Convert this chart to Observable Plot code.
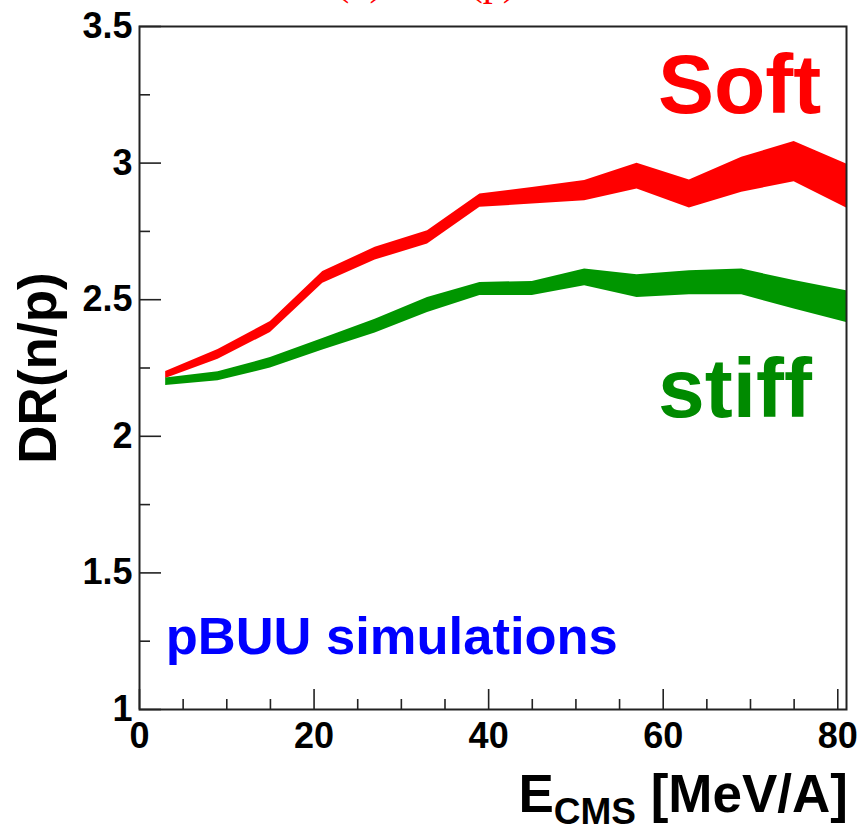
<!DOCTYPE html>
<html>
<head>
<meta charset="utf-8">
<script src="https://cdn.jsdelivr.net/npm/d3@7"></script>
<script src="https://cdn.jsdelivr.net/npm/@observablehq/plot@0.6"></script>
<style>
  html, body { margin: 0; padding: 0; background: #fff; }
  #chart { width: 857px; height: 830px; overflow: hidden; }
  #chart svg { display: block; }
</style>
</head>
<body>
<div id="chart"></div>
<script>
// Beam energy in the centre-of-mass frame (MeV/A)
const energy = [3, 9, 15, 21, 27, 33, 39, 45, 51, 57, 63, 69, 75, 81];

// Double ratio DR(n/p), soft symmetry energy: lower / upper edge of the band
const softLow  = [2.212, 2.282, 2.380, 2.560, 2.645, 2.704, 2.838, 2.850, 2.862, 2.905, 2.836, 2.893, 2.932, 2.836];
const softHigh = [2.237, 2.318, 2.420, 2.603, 2.692, 2.752, 2.887, 2.911, 2.936, 2.999, 2.938, 3.021, 3.079, 2.997];

// Double ratio DR(n/p), stiff symmetry energy: lower / upper edge of the band
const stiffLow  = [2.186, 2.203, 2.250, 2.316, 2.378, 2.453, 2.515, 2.515, 2.551, 2.508, 2.518, 2.518, 2.466, 2.417];
const stiffHigh = [2.213, 2.236, 2.288, 2.358, 2.428, 2.508, 2.563, 2.567, 2.612, 2.591, 2.606, 2.612, 2.570, 2.533];

// Axis ticks and their labels
const xMajorTicks = [0, 20, 40, 60, 80];
const xMinorTicks = [5, 10, 15, 25, 30, 35, 45, 50, 55, 65, 70, 75];
const yMajorTicks = [1, 1.5, 2, 2.5, 3, 3.5];
const yMinorTicks = [1.25, 1.75, 2.25, 2.75, 3.25];
const yTickLabels = ["1", "1.5", "2", "2.5", "3", "3.5"];
const xTickLabels = ["0", "20", "40", "60", "80"];

// Text annotations placed in data coordinates
const notes = [
  {x: 59.4, y: 3.184, text: "Soft", color: "#ff0000", size: 84},
  {x: 59.4, y: 2.070, text: "stiff", color: "#008a00", size: 84},
  {x: 3.0, y: 1.204, text: "pBUU simulations", color: "#0000ff", size: 52.5}
];

const band = (lo, hi) => energy.map((e, i) => ({e, lo: lo[i], hi: hi[i]}));
const soft = band(softLow, softHigh);
const stiff = band(stiffLow, stiffHigh);

const W = 857, H = 830;
const mL = 139, mR = 11, mT = 26, mB = 121;
const innerW = W - mL - mR, innerH = H - mT - mB;
const axisColor = "#222";

const chart = Plot.plot({
  width: W,
  height: H,
  marginLeft: mL,
  marginRight: mR,
  marginTop: mT,
  marginBottom: mB,
  style: {fontFamily: "'Liberation Sans', Arial, Helvetica, sans-serif", fontWeight: "bold", background: "#fff", color: "#000", overflow: "visible"},
  x: {domain: [0, 81], label: null},
  y: {domain: [1, 3.5], label: null},
  marks: [
    Plot.areaY(soft, {x: "e", y1: "lo", y2: "hi", fill: "#ff0000"}),
    Plot.areaY(stiff, {x: "e", y1: "lo", y2: "hi", fill: "#009600"}),
    // inward ticks on the left axis
    Plot.ruleY(yMajorTicks, {y: d => d, insetRight: innerW - 22, stroke: axisColor, strokeWidth: 1.6}),
    Plot.ruleY(yMinorTicks, {y: d => d, insetRight: innerW - 11, stroke: axisColor, strokeWidth: 1.6}),
    // inward ticks on the bottom axis
    Plot.ruleX(xMajorTicks, {x: d => d, insetTop: innerH - 20, stroke: axisColor, strokeWidth: 1.6}),
    Plot.ruleX(xMinorTicks, {x: d => d, insetTop: innerH - 10, stroke: axisColor, strokeWidth: 1.6}),
    Plot.axisY({ticks: yMajorTicks, tickSize: 0, tickPadding: 7, fontSize: 36, label: null,
      tickFormat: d => yTickLabels[yMajorTicks.indexOf(d)]}),
    Plot.axisX({ticks: xMajorTicks, tickSize: 0, tickPadding: 13, fontSize: 36, label: null,
      tickFormat: d => xTickLabels[xMajorTicks.indexOf(d)]}),
    Plot.frame({stroke: axisColor, strokeWidth: 2}),
    // annotations
    ...notes.map(n => Plot.text([n], {x: "x", y: "y", text: "text", fill: n.color, fontSize: n.size,
      fontWeight: "bold", textAnchor: "start", lineAnchor: "bottom"})),
    // y-axis title
    Plot.text(["DR(n/p)"], {frameAnchor: "left", text: d => d, rotate: -90, dx: -84,
      textAnchor: "middle", lineAnchor: "bottom", fontSize: 53, fontWeight: "bold"}),
    // page title above the frame
    Plot.text(["DR(n) / DR(p)"], {frameAnchor: "top-left", text: d => d, dx: 141, dy: -32,
      textAnchor: "start", lineAnchor: "bottom", fontSize: 40, fontWeight: "normal",
      fontFamily: "'Liberation Serif', 'Times New Roman', serif", fill: "#ff0000"})
  ]
});

// x-axis title with the subscripted CMS
const xt = d3.select(chart).append("text")
  .attr("x", W - 9)
  .attr("y", 812)
  .attr("text-anchor", "end")
  .attr("font-size", 53)
  .attr("font-weight", "bold")
  .attr("fill", "#000");
xt.append("tspan").text("E");
xt.append("tspan").attr("font-size", 37).attr("dy", 12).text("CMS");
xt.append("tspan").attr("dy", -12).text(" [MeV/A]");

document.getElementById("chart").appendChild(chart);
</script>
</body>
</html>
